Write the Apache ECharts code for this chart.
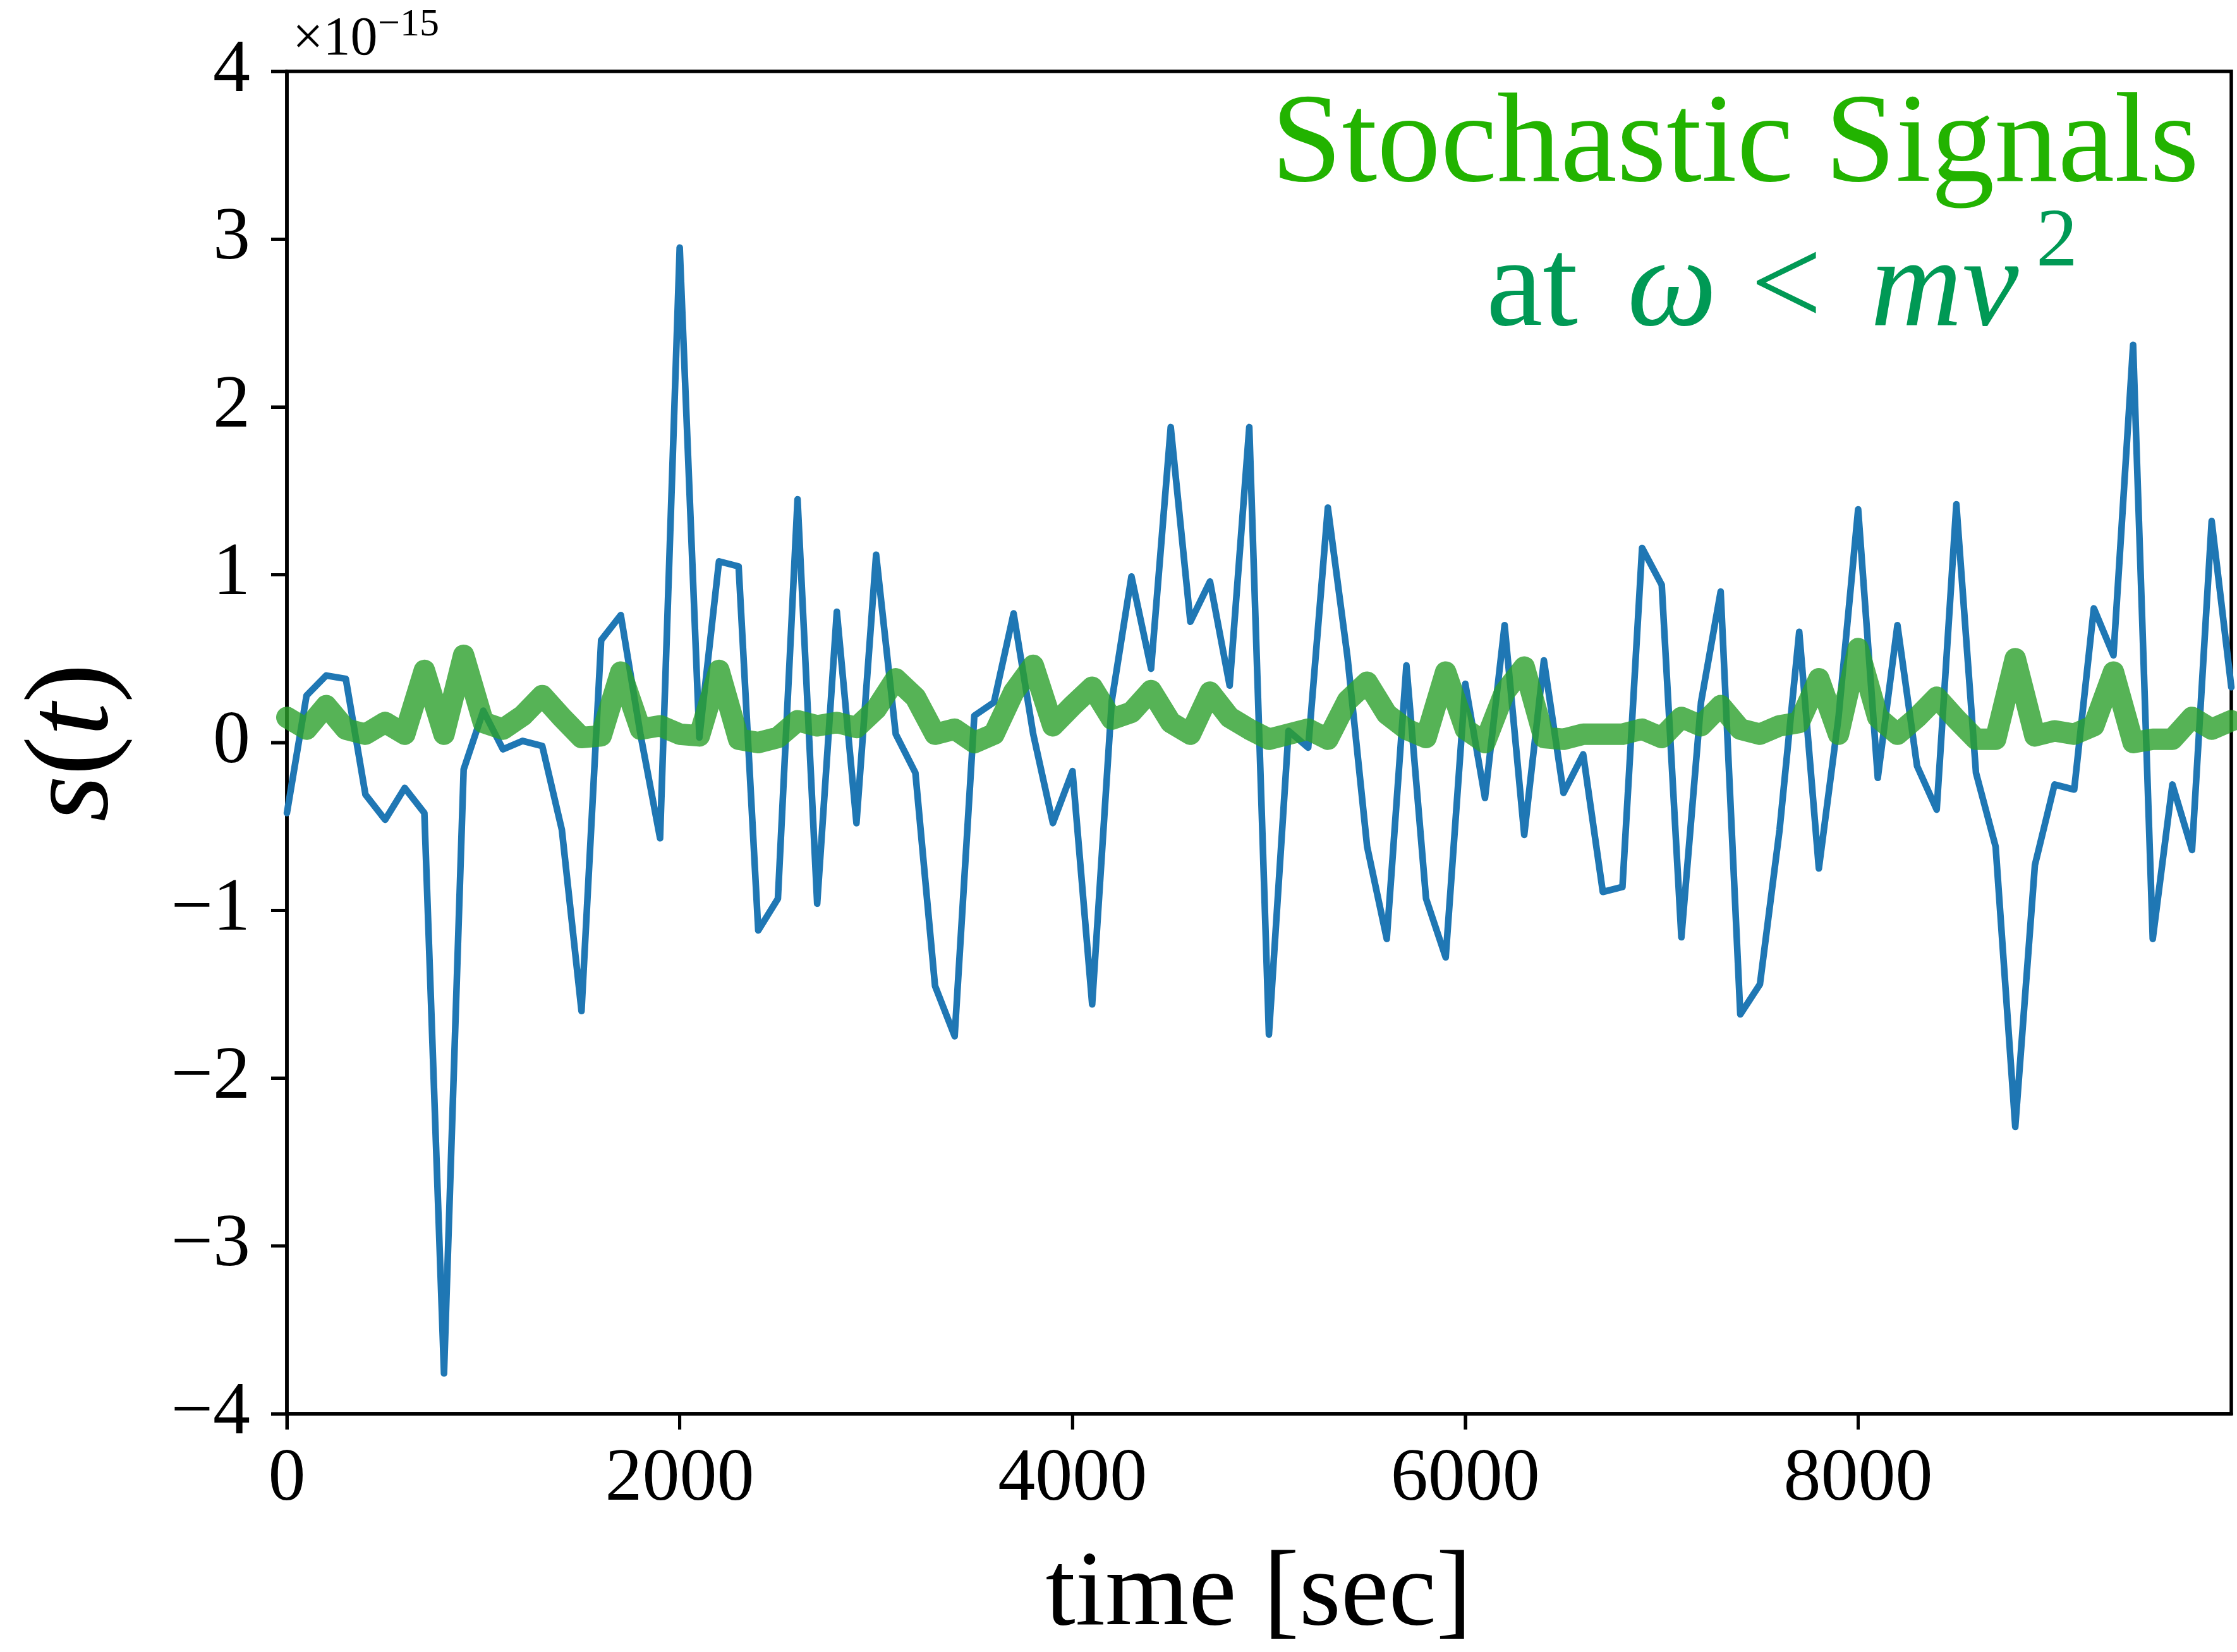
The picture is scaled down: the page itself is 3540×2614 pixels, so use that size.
<!DOCTYPE html>
<html>
<head>
<meta charset="utf-8">
<style>
html,body{margin:0;padding:0;background:#fff;}
#chart{width:3540px;height:2614px;}
</style>
<script src="https://cdn.jsdelivr.net/npm/echarts@6/dist/echarts.min.js"></script>
</head>
<body>
<div id="chart"></div>
<script>
// time samples [sec]
var times = [0,100,200,300,400,500,600,700,800,900,
  1000,1100,1200,1300,1400,1500,1600,1700,1800,1900,
  2000,2100,2200,2300,2400,2500,2600,2700,2800,2900,
  3000,3100,3200,3300,3400,3500,3600,3700,3800,3900,
  4000,4100,4200,4300,4400,4500,4600,4700,4800,4900,
  5000,5100,5200,5300,5400,5500,5600,5700,5800,5900,
  6000,6100,6200,6300,6400,6500,6600,6700,6800,6900,
  7000,7100,7200,7300,7400,7500,7600,7700,7800,7900,
  8000,8100,8200,8300,8400,8500,8600,8700,8800,8900,
  9000,9100,9200,9300,9400,9500,9600,9700,9800,9900];

// blue signal s(t), in units of 1e-15
var blueSignal = [-0.42,0.28,0.40,0.38,-0.31,-0.46,-0.27,-0.42,-3.76,-0.16,
  0.19,-0.04,0.01,-0.02,-0.52,-1.60,0.61,0.76,0.05,-0.57,
  2.95,0.03,1.08,1.05,-1.12,-0.93,1.45,-0.96,0.78,-0.48,
  1.12,0.05,-0.18,-1.45,-1.75,0.16,0.24,0.77,0.05,-0.48,
  -0.17,-1.56,0.25,0.99,0.44,1.88,0.72,0.96,0.34,1.88,
  -1.74,0.07,-0.03,1.40,0.51,-0.62,-1.17,0.46,-0.93,-1.28,
  0.35,-0.33,0.70,-0.55,0.49,-0.30,-0.07,-0.89,-0.86,1.16,
  0.94,-1.16,0.24,0.90,-1.62,-1.44,-0.52,0.66,-0.75,0.15,
  1.39,-0.21,0.70,-0.14,-0.40,1.42,-0.18,-0.62,-2.29,-0.73,
  -0.25,-0.28,0.80,0.52,2.37,-1.17,-0.25,-0.64,1.32,0.33];

// green signal, in units of 1e-15
var greenSignal = [0.15,0.08,0.22,0.08,0.05,0.12,0.05,0.43,0.05,0.52,
  0.12,0.08,0.16,0.28,0.15,0.03,0.04,0.42,0.08,0.10,
  0.05,0.04,0.43,0.02,0.00,0.03,0.13,0.10,0.12,0.09,
  0.20,0.38,0.27,0.05,0.08,0.00,0.05,0.30,0.46,0.10,
  0.22,0.33,0.14,0.18,0.31,0.12,0.05,0.30,0.15,0.08,
  0.02,0.05,0.08,0.02,0.25,0.36,0.17,0.08,0.03,0.42,
  0.08,0.00,0.30,0.45,0.03,0.02,0.05,0.05,0.05,0.08,
  0.03,0.15,0.10,0.22,0.08,0.05,0.10,0.12,0.38,0.05,
  0.56,0.15,0.05,0.15,0.27,0.14,0.02,0.02,0.50,0.04,
  0.07,0.05,0.10,0.42,0.00,0.02,0.02,0.15,0.08,0.13];

var xTicks = [0,2000,4000,6000,8000];
var yTicks = [-4,-3,-2,-1,0,1,2,3,4];
var X_MIN = 0, X_MAX = 9900, Y_MIN = -4, Y_MAX = 4;

var FONT = '"Liberation Serif", "DejaVu Serif", serif';
var TICK_LEN = 25, TICK_W = 5;
var GRID = {left: 454, top: 113, right: 9, bottom: 377};
var W = 3540, H = 2614;

function pairs(xs, ys){ var out=[]; for (var i=0;i<xs.length;i++){ out.push([xs[i], ys[i]]); } return out; }

var chart = echarts.init(document.getElementById('chart'), null, {renderer:'canvas', width: W, height: H});

var textGraphics = [
  {type: 'text', x: 120, y: 1175, rotation: Math.PI/2,
    style: {text: '{i|s}{r|(}{i|t}{r|)}', align: 'center', verticalAlign: 'middle',
      rich: {i: {fontFamily: FONT, fontStyle: 'italic', fontSize: 188, fill: '#000'},
             r: {fontFamily: FONT, fontSize: 188, fill: '#000'}}}},
  {type: 'text', x: 1992, y: 2525,
    style: {text: 'time [sec]', fontFamily: FONT, fontSize: 170, fill: '#000', align: 'center', verticalAlign: 'middle'}},
  {type: 'text', x: 463, y: 63,
    style: {text: '\u00d710', fontFamily: FONT, fontSize: 86, fill: '#000', align: 'left', verticalAlign: 'middle'}},
  {type: 'text', x: 598, y: 40,
    style: {text: '\u221215', fontFamily: FONT, fontSize: 62, fill: '#000', align: 'left', verticalAlign: 'middle'}},
  {type: 'text', x: 3480, y: 233,
    style: {text: 'Stochastic Signals', fontFamily: FONT, fontSize: 201, fill: '#22b300', align: 'right', verticalAlign: 'middle'}},
  {type: 'text', x: 2352, y: 461,
    style: {text: 'at', fontFamily: FONT, fontSize: 201, fill: '#009955', align: 'left', verticalAlign: 'middle'}},
  {type: 'text', x: 2575, y: 461,
    style: {text: '\u03c9', fontFamily: FONT, fontStyle: 'italic', fontSize: 201, fill: '#009955', align: 'left', verticalAlign: 'middle'}},
  {type: 'text', x: 2770, y: 461,
    style: {text: '<', fontFamily: FONT, fontSize: 201, fill: '#009955', align: 'left', verticalAlign: 'middle'}},
  {type: 'text', x: 2960, y: 461,
    style: {text: 'mv', fontFamily: FONT, fontStyle: 'italic', fontSize: 201, fill: '#009955', align: 'left', verticalAlign: 'middle'}},
  {type: 'text', x: 3222, y: 385,
    style: {text: '2', fontFamily: FONT, fontSize: 132, fill: '#009955', align: 'left', verticalAlign: 'middle'}}
];

var option = {
  animation: false,
  backgroundColor: '#ffffff',
  grid: {left: GRID.left, top: GRID.top, right: GRID.right, bottom: GRID.bottom, show: true, borderColor: '#000', borderWidth: 5.5, backgroundColor: 'transparent', containLabel: false},
  xAxis: {type: 'value', min: X_MIN, max: X_MAX,
    axisLine: {show: true, onZero: false, lineStyle: {color: '#000', width: 5.5}},
    splitLine: {show: false},
    axisTick: {show: true, inside: false, length: TICK_LEN, lineStyle: {color: '#000', width: TICK_W}, customValues: xTicks},
    axisLabel: {show: true, margin: 46, fontFamily: FONT, fontSize: 118, color: '#000', customValues: xTicks,
      formatter: function(v){ return String(v); }}},
  yAxis: {type: 'value', min: Y_MIN, max: Y_MAX, interval: 1,
    axisLine: {show: true, onZero: false, lineStyle: {color: '#000', width: 5.5}},
    splitLine: {show: false},
    axisTick: {show: true, inside: false, length: TICK_LEN, lineStyle: {color: '#000', width: TICK_W}, customValues: yTicks},
    axisLabel: {show: true, margin: 58, fontFamily: FONT, fontSize: 118, color: '#000', customValues: yTicks,
      formatter: function(v){ return (v < 0 ? '\u2212' + Math.abs(v) : String(v)); }}},
  series: [
    {type: 'line', data: pairs(times, blueSignal), showSymbol: false, symbol: 'none', z: 2,
      lineStyle: {color: '#1f77b4', width: 10.5, cap: 'round', join: 'round'}},
    {type: 'line', data: pairs(times, greenSignal), showSymbol: false, symbol: 'none', z: 3,
      lineStyle: {color: '#2ca02c', width: 34, opacity: 0.8, cap: 'round', join: 'round'}}
  ],
  graphic: textGraphics
};
chart.setOption(option);

// pixel position of a data point through the chart's axis scales (linear fallback from the grid box)
function toPx(x, y){
  var p = null;
  try { p = chart.convertToPixel('grid', [x, y]); } catch (e) { p = null; }
  if (!p || !isFinite(p[0]) || !isFinite(p[1])) {
    var gw = W - GRID.left - GRID.right, gh = H - GRID.top - GRID.bottom;
    p = [GRID.left + (x - X_MIN) / (X_MAX - X_MIN) * gw,
         GRID.top + (Y_MAX - y) / (Y_MAX - Y_MIN) * gh];
  }
  return p;
}

// outward tick marks
var tickGraphics = [];
xTicks.forEach(function(v){
  var p = toPx(v, Y_MIN);
  tickGraphics.push({type: 'rect', z: 100, silent: true,
    shape: {x: p[0] - TICK_W / 2, y: p[1], width: TICK_W, height: TICK_LEN},
    style: {fill: '#000'}});
});
yTicks.forEach(function(v){
  var p = toPx(X_MIN, v);
  tickGraphics.push({type: 'rect', z: 100, silent: true,
    shape: {x: p[0] - TICK_LEN, y: p[1] - TICK_W / 2, width: TICK_LEN, height: TICK_W},
    style: {fill: '#000'}});
});
chart.setOption({graphic: textGraphics.concat(tickGraphics)});
</script>
</body>
</html>
